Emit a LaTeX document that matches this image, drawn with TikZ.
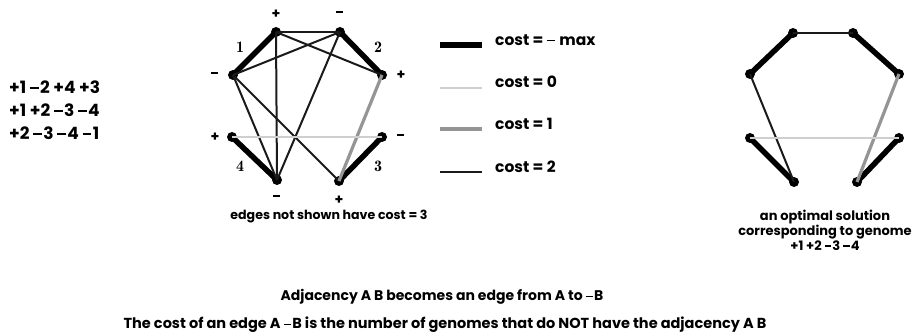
\documentclass[tikz,border=0pt]{standalone}
\usepackage{fontspec}
\setmainfont{Poppins}
\usepackage{tikz}
\usetikzlibrary{positioning,calc}
\definecolor{ink}{HTML}{1A1A1A}
\definecolor{costone}{HTML}{959595}
\definecolor{costzero}{HTML}{CFCFCF}
\newcommand{\mn}{\rule[0.27em]{0.52em}{0.09em}\kern0.08em}

\begin{document}
\begin{tikzpicture}[x=1pt,y=-1pt,
  every node/.style={font=\fontsize{12.6}{14}\selectfont\bfseries},
  dot/.style={circle, fill=black, inner sep=0pt, minimum size=10pt},
  sgn/.style={font=\fontsize{14}{14}\selectfont\bfseries, inner sep=0pt},
  gnum/.style={font=\fontsize{16}{16}\fontfamily{lmr}\bfseries\selectfont, inner sep=1pt},
  costmax/.style={line width=5.5pt, draw=black, line cap=round},
  costtwo/.style={line width=2pt, draw=ink},
  costone/.style={line width=3.2pt, draw=costone},
  costzero/.style={line width=2.2pt, draw=costzero},
  legline/.style={line cap=butt},
  legtxt/.style={txt, anchor=west, font=\fontsize{15.5}{16}\selectfont\bfseries},
  txt/.style={align=center, inner sep=0pt}
]
\useasboundingbox (0,0) rectangle (922,336);

% genomes
\node[txt, align=left, anchor=west, font=\fontsize{17}{23}\selectfont\bfseries] (genomes) at (9,110)
  {+1 \mn2 +4 +3\\ +1 +2 \mn3 \mn4\\ +2 \mn3 \mn4 \mn1};

% left graph
\node[dot] (p1) at (276,32) {};
\node[dot] (m2) at (340,32) {};
\node[dot] (m1) at (233,75) {};
\node[dot] (p2) at (382,75) {};
\node[dot] (p4) at (232,137) {};
\node[dot] (m3) at (382,137) {};
\node[dot] (m4) at (277,180) {};
\node[dot] (p3) at (339,181) {};

\node[sgn] (sp1) at (276,14) {+};
\node[sgn] (sm2) at (340,14) {\mn};
\node[sgn] (sm1) at (215,75) {\mn};
\node[sgn] (sp2) at (401,75) {+};
\node[sgn] (sp4) at (215,137) {+};
\node[sgn] (sm3) at (401,137) {\mn};
\node[sgn] (sm4) at (277,198) {\mn};
\node[sgn] (sp3) at (339,200) {+};

\node[gnum] (g1) at (240,47) {1};
\node[gnum] (g2) at (378,47) {2};
\node[gnum] (g3) at (378,166) {3};
\node[gnum] (g4) at (240,166) {4};

\draw[costmax] (p1.center) -- (m1.center);
\draw[costmax] (m2.center) -- (p2.center);
\draw[costmax] (m3.center) -- (p3.center);
\draw[costmax] (p4.center) -- (m4.center);
\draw[costtwo] (p1.center) -- (m2.center);
\draw[costtwo] (p1.center) -- (p2.center);
\draw[costtwo] (p1.center) -- (m4.center);
\draw[costtwo] (m2.center) -- (m1.center);
\draw[costtwo] (m2.center) -- (m4.center);
\draw[costtwo] (m1.center) -- (m4.center);
\draw[costtwo] (m1.center) -- (p3.center);
\draw[costone] (p2.center) -- (p3.center);
\draw[costzero] (p4.center) -- (m3.center);

\node[txt] (note) at (329,217) {edges not shown have cost = 3};

% legend
\coordinate (la1) at (440,45);  \coordinate (lb1) at (482,45);
\coordinate (la2) at (440,88);  \coordinate (lb2) at (482,88);
\coordinate (la3) at (440,129); \coordinate (lb3) at (482,129);
\coordinate (la4) at (440,172); \coordinate (lb4) at (482,172);
\draw[costmax, legline] (la1) -- (lb1);
\draw[costzero] (la2) -- (lb2);
\draw[costone] (la3) -- (lb3);
\draw[costtwo] (la4) -- (lb4);
\node[legtxt] (l1) at (495,40) {cost = \mn\ max};
\node[legtxt] (l2) at (495,82) {cost = 0};
\node[legtxt] (l3) at (495,124) {cost = 1};
\node[legtxt] (l4) at (495,167) {cost = 2};

% right graph: solution
\node[dot] (q1) at (793,33) {};
\node[dot] (r2) at (853,33) {};
\node[dot] (r1) at (750,74) {};
\node[dot] (q2) at (899,74) {};
\node[dot] (q4) at (750,138) {};
\node[dot] (r3) at (899,138) {};
\node[dot] (r4) at (794,182) {};
\node[dot] (q3) at (857,182) {};

\draw[costmax] (q1.center) -- (r1.center);
\draw[costmax] (r2.center) -- (q2.center);
\draw[costmax] (r3.center) -- (q3.center);
\draw[costmax] (q4.center) -- (r4.center);
\draw[costtwo] (q1.center) -- (r2.center);
\draw[costtwo] (r1.center) -- (r4.center);
\draw[costone] (q2.center) -- (q3.center);
\draw[costzero] (q4.center) -- (r3.center);

\node[txt, font=\fontsize{13}{15}\selectfont\bfseries] (sol) at (825,230)
  {an optimal solution\\ corresponding to genome\\ +1 +2 \mn3 \mn4};

% bottom lines
\node[txt, font=\fontsize{14}{16}\selectfont\bfseries] (rule1) at (442,297)
  {Adjacency A B becomes an edge from A to \mn B};
\node[txt, font=\fontsize{14.5}{16}\selectfont\bfseries] (rule2) at (445,325)
  {The cost of an edge A \mn B is the number of genomes that do NOT have the adjacency A B};
\end{tikzpicture}
\end{document}
